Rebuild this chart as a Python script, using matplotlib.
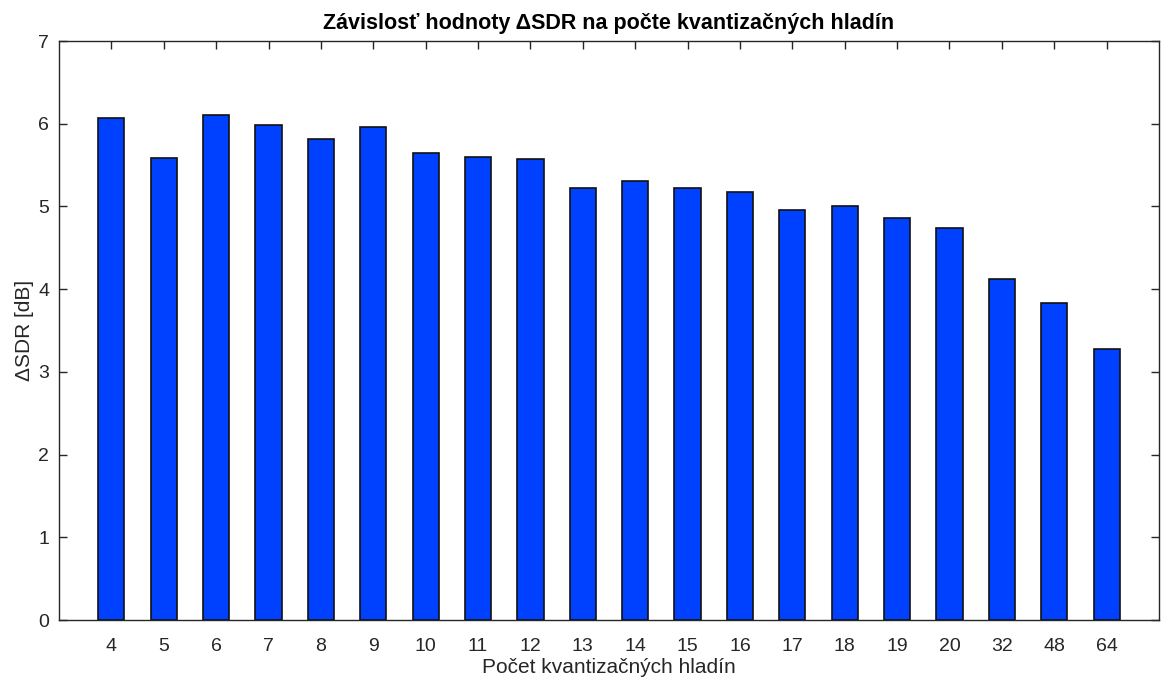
import matplotlib
matplotlib.use("Agg")
import matplotlib.pyplot as plt
import numpy as np

plt.rcParams['font.family'] = ['Liberation Sans', 'DejaVu Sans']

levels = ['4', '5', '6', '7', '8', '9', '10', '11', '12', '13', '14', '15', '16',
          '17', '18', '19', '20', '32', '48', '64']
delta_sdr = [6.07, 5.59, 6.10, 5.99, 5.82, 5.96, 5.65, 5.60, 5.57, 5.22, 5.31,
             5.22, 5.17, 4.96, 5.00, 4.86, 4.74, 4.12, 3.83, 3.28]

fig = plt.figure(figsize=(11.61, 6.80), dpi=100)
ax = fig.add_axes([0.0508, 0.0882, 0.9475, 0.8515])

x = np.arange(1, len(levels) + 1)
ax.bar(x, delta_sdr, width=0.5, color='#0041FF', edgecolor='#111111', linewidth=1.2, zorder=2)

ax.set_xlim(0, len(levels) + 1)
ax.set_ylim(0, 7)
ax.set_xticks(x)
ax.set_xticklabels(levels)
ax.set_yticks(range(0, 8))

tc = '#262626'
for s in ax.spines.values():
    s.set_color(tc)
    s.set_linewidth(1.0)
ax.tick_params(direction='in', length=6, width=1.0, color=tc, labelcolor=tc,
               labelsize=14, top=True, right=True)
ax.tick_params(axis='x', pad=13)
ax.tick_params(axis='y', pad=7)

ax.set_xlabel('Počet kvantizačných hladín', fontsize=15, color=tc, labelpad=2)
ax.set_ylabel('ΔSDR [dB]', fontsize=15, color=tc, labelpad=3)
ax.set_title('Závislosť hodnoty ΔSDR na počte kvantizačných hladín',
             fontsize=15.5, fontweight='bold', color='black', pad=9)

fig.savefig('out.png', dpi=100)
